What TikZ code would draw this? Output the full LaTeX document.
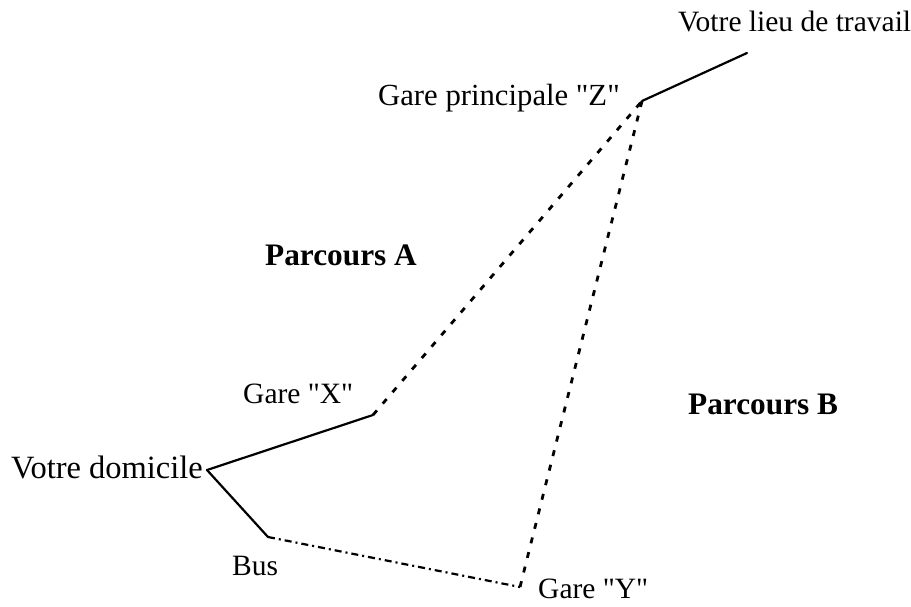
\documentclass[tikz,border=0pt]{standalone}
\usepackage{fontspec}
\setmainfont{Liberation Serif}[Ligatures=TeXReset]
\begin{document}
\begin{tikzpicture}[x=1pt,y=-1pt,
  lbl/.style={anchor=base west, inner sep=0pt, font=\fontsize{29.5}{34}\selectfont},
  blbl/.style={lbl, font=\fontsize{31.3}{36}\selectfont\bfseries},
  solidline/.style={line width=2.2pt, line cap=round},
  dashline/.style={line width=2.8pt, dash pattern=on 6pt off 9pt},
  dashdotline/.style={line width=2.2pt, dash pattern=on 7pt off 4pt on 2pt off 4pt}]
\useasboundingbox (0,0) rectangle (911,607);
\coordinate (D) at (207,470);
\coordinate (X) at (373,415);
\coordinate (Z) at (642,101);
\coordinate (T) at (747,53);
\coordinate (B) at (268,537);
\coordinate (Y) at (520,587);
\draw[solidline] (D) -- (X);
\draw[dashline] (X) -- (Z);
\draw[solidline] (Z) -- (T);
\draw[solidline] (D) -- (B);
\draw[dashdotline] (B) -- (Y);
\draw[dashline] (Y) -- (Z);
\node[lbl] (lt) at (678,32) {Votre lieu de travail};
\node[lbl, font=\fontsize{30.7}{36}\selectfont] (gz) at (378,106) {Gare principale "Z"};
\node[blbl] (pa) at (265,265) {Parcours A};
\node[blbl] (pb) at (688,414) {Parcours B};
\node[lbl] (gx) at (243,403) {Gare "X"};
\node[lbl, font=\fontsize{32.5}{38}\selectfont] (vd) at (11,478) {Votre domicile};
\node[lbl] (bus) at (232,575) {Bus};
\node[lbl] (gy) at (538,598) {Gare "Y"};
\end{tikzpicture}
\end{document}
